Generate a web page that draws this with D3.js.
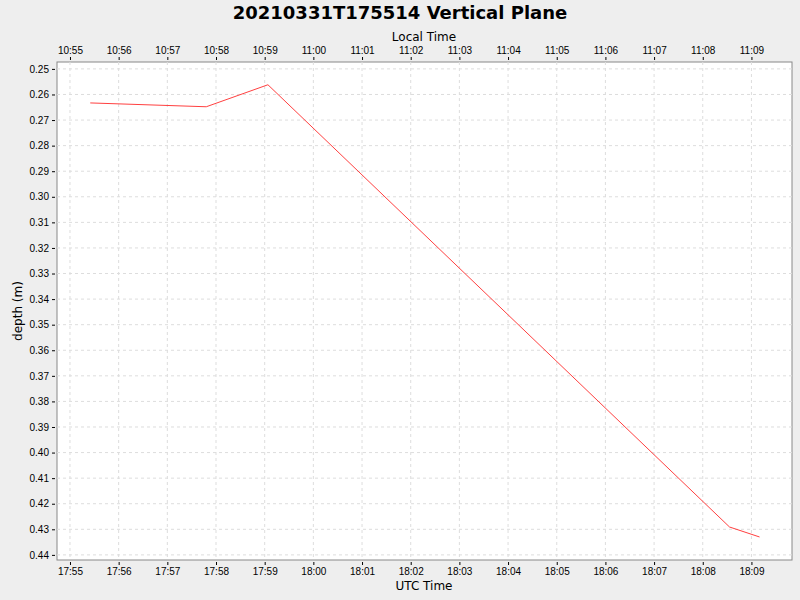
<!DOCTYPE html>
<html><head><meta charset="utf-8">
<script src="https://cdn.jsdelivr.net/npm/d3@7"></script>
<style>
body{margin:0;background:#eeeeee;font-family:"DejaVu Sans",sans-serif}
.tick text{font-size:10px;fill:#000}
.grid line{stroke:#dddddd;stroke-dasharray:3,3}
</style></head><body>
<svg id="chart" width="800" height="600"></svg>
<script>
// samples (UTC times, depth in metres)
var times = ["2021-03-31T17:55:25Z","2021-03-31T17:57:48Z","2021-03-31T17:59:04Z","2021-03-31T18:08:33Z","2021-03-31T18:09:10Z"];
var depths = [0.2633, 0.2648, 0.2562, 0.4291, 0.4330];
var yTicks = [0.25,0.26,0.27,0.28,0.29,0.30,0.31,0.32,0.33,0.34,0.35,0.36,0.37,0.38,0.39,0.40,0.41,0.42,0.43,0.44];
var xDomain = ["2021-03-31T17:54:44Z","2021-03-31T18:09:50Z"];
var yDomain = [0.2473, 0.4420];
var localOffsetH = -7;

var svg = d3.select("#chart")
  , m = {left:57, right:792, top:62, bottom:560}
  , data = times.map(function(t,i){ return {t:new Date(t), d:depths[i]}; });

var x = d3.scaleUtc().domain(xDomain.map(function(s){return new Date(s);})).range([m.left,m.right]);
var y = d3.scaleLinear().domain(yDomain).range([m.top,m.bottom]);
var minutes = d3.utcMinute.range(x.domain()[0], x.domain()[1]);

svg.append("rect").attr("x",m.left).attr("y",m.top).attr("width",m.right-m.left).attr("height",m.bottom-m.top)
  .attr("fill","#fff").attr("stroke","#888");

var grid = svg.append("g").attr("class","grid");
grid.selectAll(".gx").data(minutes).enter().append("line")
  .attr("x1",function(d){return x(d);}).attr("x2",function(d){return x(d);}).attr("y1",m.top).attr("y2",m.bottom);
grid.selectAll(".gy").data(yTicks).enter().append("line")
  .attr("y1",function(d){return y(d);}).attr("y2",function(d){return y(d);}).attr("x1",m.left).attr("x2",m.right);

svg.append("g").attr("transform","translate(0,"+(m.bottom+2)+")")
  .call(d3.axisBottom(x).tickValues(minutes).tickFormat(d3.utcFormat("%H:%M")).tickSize(3))
  .call(function(g){g.select(".domain").remove();});
svg.append("g").attr("transform","translate(0,"+(m.top-2)+")")
  .call(d3.axisTop(x).tickValues(minutes).tickSize(3)
    .tickFormat(function(d){ return d3.utcFormat("%H:%M")(d3.utcHour.offset(d,localOffsetH)); }))
  .call(function(g){g.select(".domain").remove();});
svg.append("g").attr("transform","translate("+(m.left-2)+",0)")
  .call(d3.axisLeft(y).tickValues(yTicks).tickFormat(d3.format(".2f")).tickSize(3))
  .call(function(g){g.select(".domain").remove();});

svg.append("path").datum(data).attr("fill","none").attr("stroke","#ff4040").attr("stroke-width",1)
  .attr("d", d3.line().x(function(d){return x(d.t);}).y(function(d){return y(d.d);}));

svg.append("text").attr("x",400).attr("y",19).attr("text-anchor","middle").attr("font-size",18).attr("font-weight","bold")
  .text("20210331T175514 Vertical Plane");
svg.append("text").attr("x",424).attr("y",41).attr("text-anchor","middle").attr("font-size",12).text("Local Time");
svg.append("text").attr("x",424).attr("y",590).attr("text-anchor","middle").attr("font-size",12).text("UTC Time");
svg.append("text").attr("transform","translate(22,311) rotate(-90)").attr("text-anchor","middle").attr("font-size",12).text("depth (m)");
</script></body></html>
